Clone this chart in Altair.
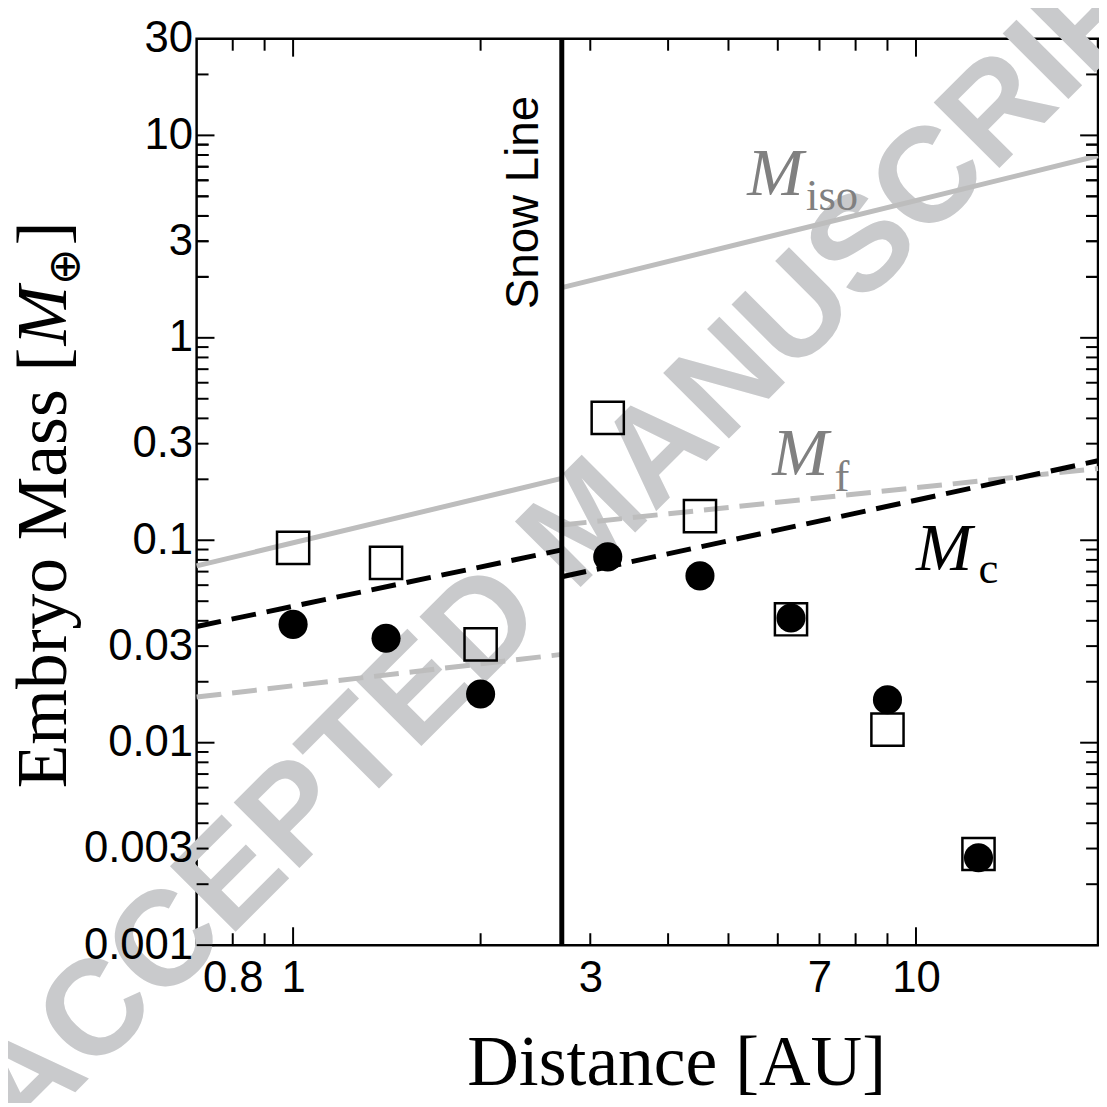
import altair as alt
import pandas as pd

# ---------------- data ----------------
dist_inner = [1.0, 1.41, 2.0]
dist_outer = [3.2, 4.5, 6.3, 9.0, 12.6]
circle_inner = [0.0384, 0.0328, 0.0174]
circle_outer = [0.0828, 0.0667, 0.0413, 0.0163, 0.0027]
square_inner = [0.0917, 0.0773, 0.0306]
square_outer = [0.402, 0.1315, 0.0407, 0.0116, 0.00282]

snow_line = [2.7]
seg_x_inner = [0.7, 2.7]
seg_x_outer = [2.7, 19.6]
m_iso_inner = [0.0747, 0.202]
m_iso_outer = [1.77, 7.93]
m_c_inner = [0.0375, 0.0896]
m_c_outer = [0.066, 0.247]
m_f_inner = [0.0168, 0.0273]
m_f_outer = [0.119, 0.226]

x_labels = [0.8, 1, 3, 7, 10]
y_labels = [0.001, 0.003, 0.01, 0.03, 0.1, 0.3, 1, 3, 10, 30]
x_major = [1, 10]
x_minor = [0.8, 0.9, 2, 3, 4, 5, 6, 7, 8, 9]
y_major = [0.001, 0.01, 0.1, 1, 10]
y_minor = [m * 10.0 ** e for e in range(-3, 1) for m in range(2, 10)] + [2, 3, 4, 5, 6, 7, 8, 9, 20]

# annotation anchors (data coordinates)
label_M_text = ["M", "M", "M"]
label_M_x = [5.36, 5.88, 10.0]
label_M_y = [5.1, 0.209, 0.0715]
label_sub_text = ["iso", "f", "c"]
label_sub_x = [6.66, 7.4, 12.6]
label_sub_y = [4.3, 0.176, 0.0617]
snow_text_x = [2.35]
snow_text_y = [4.66]
wm_x = [2.972]
wm_y = [0.1228]

W, H = 908, 913
GRAY_LINE = "#bdbdbd"
GRAY_TEXT = "#808080"

xs = alt.Scale(type="log", domain=[0.7, 19.6], nice=False)
ys = alt.Scale(type="log", domain=[0.001, 30], nice=False)

x_axis = alt.Axis(values=x_labels, format="~g", labelPadding=12, zindex=2,
                  title="Distance [AU]", titleFont="Liberation Serif",
                  titleFontSize=72, titleFontWeight="normal", titleColor="black",
                  titleX=483, titleY=140, titleBaseline="alphabetic", titleAlign="center")
y_axis = alt.Axis(values=y_labels, format="~g", labelPadding=4, title=None, zindex=2)


def X(field="x"):
    return alt.X(f"{field}:Q", scale=xs, axis=x_axis)


def Y(field="y"):
    return alt.Y(f"{field}:Q", scale=ys, axis=y_axis)


def segs(xa, ya, xb, yb):
    return pd.DataFrame({"x": xa + xb, "y": ya + yb,
                         "seg": ["a"] * len(xa) + ["b"] * len(xb)})


layers = []

# watermark
wm = pd.DataFrame({"x": wm_x, "y": wm_y, "t": ["ACCEPTED MANUSCRIPT"]})
layers.append(alt.Chart(wm).mark_text(font="Liberation Sans", fontWeight="bold", fontSize=136,
                                       color="#c9cacc", angle=315, align="center",
                                       baseline="middle").encode(x=X(), y=Y(), text="t:N"))

# model lines
layers.append(alt.Chart(segs(seg_x_inner, m_iso_inner, seg_x_outer, m_iso_outer))
              .mark_line(color=GRAY_LINE, strokeWidth=5)
              .encode(x=X(), y=Y(), detail="seg:N"))
layers.append(alt.Chart(segs(seg_x_inner, m_f_inner, seg_x_outer, m_f_outer))
              .mark_line(color=GRAY_LINE, strokeWidth=5, strokeDash=[25, 11])
              .encode(x=X(), y=Y(), detail="seg:N"))
layers.append(alt.Chart(segs(seg_x_inner, m_c_inner, seg_x_outer, m_c_outer))
              .mark_line(color="black", strokeWidth=5, strokeDash=[25, 11])
              .encode(x=X(), y=Y(), detail="seg:N"))

# snow line
layers.append(alt.Chart(pd.DataFrame({"x": snow_line})).mark_rule(color="black", strokeWidth=5)
              .encode(x=X()))
layers.append(alt.Chart(pd.DataFrame({"x": snow_text_x, "y": snow_text_y, "t": ["Snow Line"]}))
              .mark_text(font="Liberation Sans", fontSize=46, angle=270, align="center",
                         baseline="middle", color="black")
              .encode(x=X(), y=Y(), text="t:N"))

# points
pts_sq = pd.DataFrame({"x": dist_inner + dist_outer, "y": square_inner + square_outer})
pts_ci = pd.DataFrame({"x": dist_inner + dist_outer, "y": circle_inner + circle_outer})
layers.append(alt.Chart(pts_sq).mark_point(shape="square", filled=False, size=1050,
                                           stroke="black", strokeWidth=2.5, opacity=1)
              .encode(x=X(), y=Y()))
layers.append(alt.Chart(pts_ci).mark_point(shape="circle", filled=True, size=860,
                                           color="black", opacity=1)
              .encode(x=X(), y=Y()))

# curve labels
lab = pd.DataFrame({"x": label_M_x, "y": label_M_y, "t": label_M_text,
                    "c": [GRAY_TEXT, GRAY_TEXT, "black"]})
sub = pd.DataFrame({"x": label_sub_x, "y": label_sub_y, "t": label_sub_text,
                    "c": [GRAY_TEXT, GRAY_TEXT, "black"]})
layers.append(alt.Chart(lab).mark_text(font="Liberation Serif", fontStyle="italic", fontSize=68,
                                       align="left", baseline="alphabetic")
              .encode(x=X(), y=Y(), text="t:N", color=alt.Color("c:N", scale=None)))
layers.append(alt.Chart(sub).mark_text(font="Liberation Serif", fontSize=45,
                                       align="left", baseline="alphabetic")
              .encode(x=X(), y=Y(), text="t:N", color=alt.Color("c:N", scale=None)))

# inward ticks on all four sides
ymaj = pd.DataFrame({"y": y_major})
ymin = pd.DataFrame({"y": y_minor})
xmaj = pd.DataFrame({"x": x_major})
xmin = pd.DataFrame({"x": x_minor})
for df, ln in ((ymaj, 18), (ymin, 12)):
    layers.append(alt.Chart(df).mark_rule(color="black", strokeWidth=2)
                  .encode(y=Y(), x=alt.value(0), x2=alt.value(ln)))
    layers.append(alt.Chart(df).mark_rule(color="black", strokeWidth=2)
                  .encode(y=Y(), x=alt.value(W - ln), x2=alt.value(W)))
for df, ln in ((xmaj, 18), (xmin, 12)):
    layers.append(alt.Chart(df).mark_rule(color="black", strokeWidth=2)
                  .encode(x=X(), y=alt.value(H), y2=alt.value(H - ln)))
    layers.append(alt.Chart(df).mark_rule(color="black", strokeWidth=2)
                  .encode(x=X(), y=alt.value(0), y2=alt.value(ln)))

# y-axis title pieces (mixed styles)
one = alt.Data(values=[{"a": 1}])
ty_x = -132
layers.append(alt.Chart(one).mark_text(font="Liberation Serif", fontSize=72, angle=270,
                                       align="left", baseline="alphabetic", color="black")
              .encode(x=alt.value(ty_x), y=alt.value(755), text=alt.value("Embryo Mass [")))
layers.append(alt.Chart(one).mark_text(font="Liberation Serif", fontStyle="italic", fontSize=72,
                                       angle=270, align="left", baseline="alphabetic", color="black")
              .encode(x=alt.value(ty_x), y=alt.value(309), text=alt.value("M")))
layers.append(alt.Chart(one).mark_text(font="DejaVu Sans", fontSize=44, angle=270,
                                       align="left", baseline="alphabetic", color="black")
              .encode(x=alt.value(ty_x + 14), y=alt.value(248), text=alt.value("⊕")))
layers.append(alt.Chart(one).mark_text(font="Liberation Serif", fontSize=72, angle=270,
                                       align="left", baseline="alphabetic", color="black")
              .encode(x=alt.value(ty_x), y=alt.value(208), text=alt.value("]")))

chart = (alt.layer(*layers)
         .properties(width=W, height=H, autosize=alt.AutoSizeParams(type="none"),
                     padding={"left": 190, "top": 27, "right": 1, "bottom": 155})
         .configure_view(stroke="black", strokeWidth=2.5)
         .configure_axis(grid=False, domain=False, ticks=False, tickSize=0,
                         labelFont="Liberation Sans", labelFontSize=44, labelColor="black",
                         labelOverlap=False, labelFlush=False, labelBound=False))

chart.save("out.html", embed_options={"renderer": "svg", "actions": False})
